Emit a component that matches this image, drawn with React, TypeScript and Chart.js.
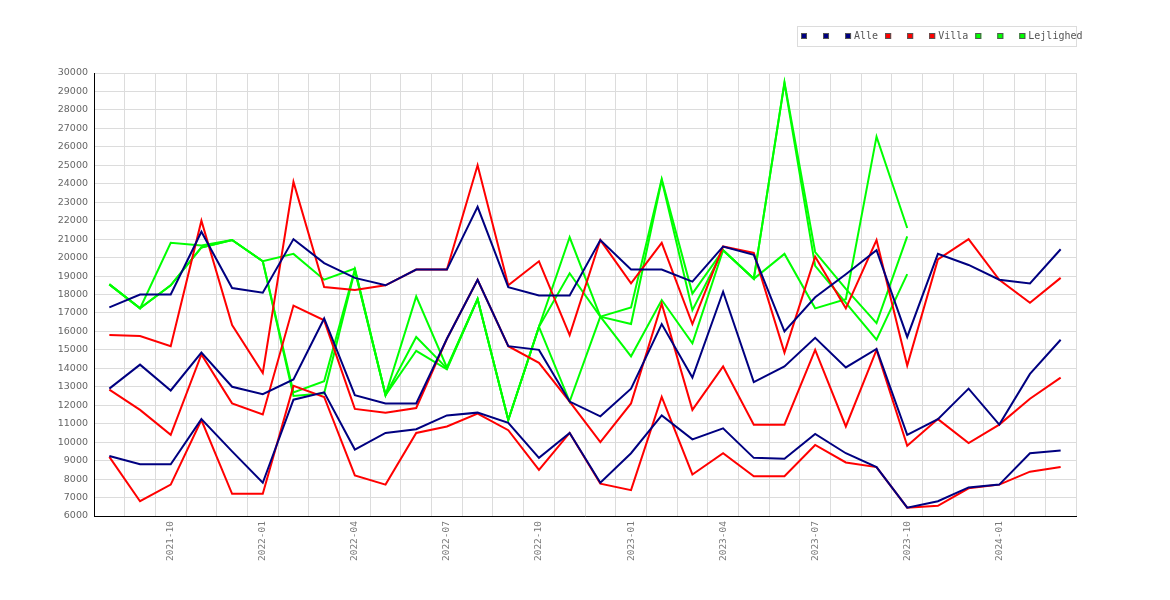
import React, { useEffect, useRef } from 'react';
import { Chart, registerables } from 'chart.js';

Chart.register(...registerables);

const months = [
  '2021-08', '2021-09', '2021-10', '2021-11', '2021-12',
  '2022-01', '2022-02', '2022-03', '2022-04', '2022-05', '2022-06',
  '2022-07', '2022-08', '2022-09', '2022-10', '2022-11', '2022-12',
  '2023-01', '2023-02', '2023-03', '2023-04', '2023-05', '2023-06',
  '2023-07', '2023-08', '2023-09', '2023-10', '2023-11', '2023-12',
  '2024-01', '2024-02', '2024-03',
];

const tickLabels = [
  '2021-10', '2022-01', '2022-04', '2022-07', '2022-10',
  '2023-01', '2023-04', '2023-07', '2023-10', '2024-01',
];

const yTicks = { min: 6000, max: 30000, step: 1000 };

const seriesNames = ['', '', 'Alle', '', '', 'Villa', '', '', 'Lejlighed'];

const alleHigh = [17300, 18000, 18000, 21400, 18350, 18100, 21000, 19700, 18900, 18500, 19350, 19350, 22750, 18400, 17950, 17950, 20950, 19350, 19350, 18700, 20600, 20150, 16000, 17850, 19100, 20400, 15700, 20200, 19600, 18800, 18600, 20450];
const alleMid = [12900, 14200, 12800, 14850, 13000, 12600, 13400, 16700, 12550, 12100, 12100, 15600, 18800, 15200, 15000, 12200, 11400, 12900, 16400, 13500, 18150, 13250, 14100, 15650, 14050, 15050, 10400, 11250, 12900, 10950, 13700, 15550];
const alleLow = [9250, 8800, 8800, 11250, 9500, 7800, 12300, 12700, 9600, 10500, 10700, 11450, 11600, 11050, 9150, 10500, 7800, 9400, 11450, 10150, 10750, 9150, 9100, 10450, 9400, 8650, 6450, 6800, 7550, 7700, 9400, 9550];

const villaHigh = [15800, 15750, 15200, 22000, 16350, 13750, 24100, 18400, 18250, 18500, 19350, 19350, 25000, 18500, 19800, 15800, 20950, 18600, 20800, 16400, 20600, 20250, 14850, 20050, 17250, 20950, 14150, 19900, 21000, 18800, 17550, 18900];
const villaMid = [12850, 11750, 10400, 14750, 12100, 11500, 17400, 16600, 11800, 11600, 11850, 15600, 18800, 15200, 14300, 12200, 10000, 12100, 17500, 11750, 14100, 10950, 10950, 15000, 10850, 15000, 9800, 11250, 9950, 10950, 12350, 13500];
const villaLow = [9200, 6800, 7700, 11200, 7200, 7200, 13050, 12450, 8200, 7700, 10500, 10850, 11550, 10650, 8500, 10500, 7750, 7400, 12450, 8250, 9400, 8150, 8150, 9850, 8900, 8650, 6450, 6550, 7500, 7700, 8400, 8650];

const lejA = [18550, 17250, 20800, 20650, 20950, 19800, 20200, 18800, 19400, 12550, 17900, 14050, 17750, 11200, 16250, 21100, 16800, 17300, 24250, 18050, 20400, 18850, 29500, 20300, 18300, 16450, 21150];
const lejB = [18550, 17250, 18500, 20550, 20950, 19800, 12700, 13300, 19350, 12550, 15700, 14000, 17750, 11200, 16250, 19150, 16800, 16400, 24200, 17150, 20400, 18850, 29450, 19550, 17550, 15550, 19100];
const lejC = [18550, 17250, 18500, 20550, 20950, 19800, 12500, 12650, 19300, 12550, 14950, 13950, 17750, 11200, 16250, 12200, 16800, 14650, 17700, 15350, 20400, 18850, 20200, 17250, 17750, 26550, 21600];

const BLUE = '#000080';
const RED = '#ff0000';
const GREEN = '#00ff00';

const seriesData = [alleHigh, alleMid, alleLow, villaHigh, villaMid, villaLow, lejA, lejB, lejC];
const seriesColors = [BLUE, BLUE, BLUE, RED, RED, RED, GREEN, GREEN, GREEN];

const FONT_MONO = '"DejaVu Sans Mono", monospace';
const FONT_SANS = '"DejaVu Sans", sans-serif';

const boxLegend = {
  id: 'boxLegend',
  afterDraw(chart: any) {
    const ctx = chart.ctx;
    const area = chart.chartArea;
    ctx.save();
    ctx.font = '10px ' + FONT_MONO;
    ctx.textBaseline = 'middle';
    ctx.textAlign = 'left';
    ctx.lineWidth = 1;
    const boxLeft = 797;
    const boxTop = 26;
    ctx.strokeStyle = '#dcdcdc';
    ctx.strokeRect(boxLeft + 0.5, boxTop + 0.5, area.right - boxLeft, 20);
    let x = 801;
    const cy = 36;
    chart.data.datasets.forEach((ds: any) => {
      ctx.fillStyle = ds.borderColor;
      ctx.fillRect(x, cy - 3, 6, 6);
      ctx.strokeStyle = '#555';
      ctx.strokeRect(x + 0.5, cy - 2.5, 5, 5);
      const label = ds.label || ' ';
      ctx.fillStyle = '#555';
      ctx.fillText(ds.label || '', x + 9, cy + 0.5);
      x += 9 + ctx.measureText(label).width + 7.0;
    });
    ctx.restore();
  },
};

export default function App() {
  const ref = useRef<HTMLCanvasElement | null>(null);

  useEffect(() => {
    if (!ref.current) return;
    const chart = new Chart(ref.current, {
      type: 'line',
      data: {
        labels: months,
        datasets: seriesData.map((d, i) => ({
          label: seriesNames[i],
          data: d,
          borderColor: seriesColors[i],
          backgroundColor: seriesColors[i],
          borderWidth: 2,
          pointRadius: 0,
          pointHoverRadius: 0,
          tension: 0,
          fill: false,
        })),
      },
      options: {
        responsive: false,
        animation: false,
        events: [],
        layout: { padding: { left: 0, right: 94, top: 73, bottom: 0 } },
        plugins: {
          legend: { display: false },
          tooltip: { enabled: false },
          title: { display: false },
        },
        scales: {
          x: {
            type: 'category',
            offset: true,
            grid: { offset: true, color: '#dcdcdc', drawTicks: false, lineWidth: 1 },
            border: { color: '#000', width: 1 },
            ticks: {
              autoSkip: false,
              minRotation: 90,
              maxRotation: 90,
              padding: 5,
              color: '#777',
              font: { family: FONT_MONO, size: 9.5 },
              callback: (_v: any, i: number) => (tickLabels.includes(months[i]) ? months[i] : ''),
            },
            afterFit: (s: any) => { s.height = 84; },
          },
          y: {
            min: yTicks.min,
            max: yTicks.max,
            grid: { color: '#dcdcdc', drawTicks: false, lineWidth: 1 },
            border: { color: '#000', width: 1 },
            ticks: {
              stepSize: yTicks.step,
              padding: 6,
              color: '#666',
              font: { family: FONT_SANS, size: 9.5 },
              callback: (v: any) => String(v),
            },
            afterFit: (s: any) => { s.width = 94; },
          },
        },
      },
      plugins: [boxLegend],
    } as any);
    return () => chart.destroy();
  }, []);

  return (
    <div style={{ position: 'absolute', left: 0, top: 0, width: 1170, height: 600, background: '#fff' }}>
      <canvas ref={ref} width={1170} height={600} />
    </div>
  );
}
